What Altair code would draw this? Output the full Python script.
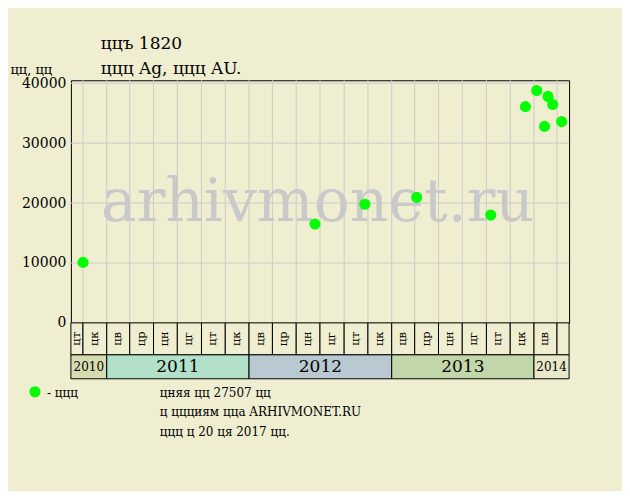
import altair as alt
import pandas as pd

# ---- data ----
sale_dates = ["2010-11-01", "2012-06-18", "2012-10-24", "2013-03-06", "2013-09-12",
              "2013-12-10", "2014-01-08", "2014-01-28", "2014-02-06", "2014-02-18",
              "2014-03-13"]
sale_prices = [10100, 16500, 19800, 20950, 18000, 36100, 38800, 32800, 37800, 36450, 33600]

col_starts = ["2010-10-01", "2010-11-01",
              "2011-01-01", "2011-03-01", "2011-05-01", "2011-07-01", "2011-09-01", "2011-11-01",
              "2012-01-01", "2012-03-01", "2012-05-01", "2012-07-01", "2012-09-01", "2012-11-01",
              "2013-01-01", "2013-03-01", "2013-05-01", "2013-07-01", "2013-09-01", "2013-11-01",
              "2014-01-01", "2014-03-01"]
col_ends = col_starts[1:] + ["2014-04-01"]
col_labels = ["цт", "цк",
              "цв", "цр", "цн", "цг", "цт", "цк",
              "цв", "цр", "цн", "цг", "цт", "цк",
              "цв", "цр", "цн", "цг", "цт", "цк",
              "цв", ""]

year_labels = ["2010", "2011", "2012", "2013", "2014"]
year_starts = ["2010-10-01", "2011-01-01", "2012-01-01", "2013-01-01", "2014-01-01"]
year_ends = ["2011-01-01", "2012-01-01", "2013-01-01", "2014-01-01", "2014-04-01"]
year_colors = ["#d6dcb0", "#b3e0c8", "#b9c9d1", "#c2d7a9", "#e9e9c9"]

y_ticks = [0, 10000, 20000, 30000, 40000]
grid_values = [10000, 20000, 30000, 40000]

title_lines = ["ццъ 1820", "ццц Ag, ццц AU."]
y_title = "цц, цц"
watermark_text = "arhivmonet.ru"
legend_label = "- ццц"
note_lines = ["цняя цц 27507 цц", "ц ццциям цца ARHIVMONET.RU", "ццц ц 20 ця 2017 цц."]

# ---- styles / layout ----
BG = "#f0eed0"
FONT = "DejaVu Serif"
W = 499
TITLE_Y = [-31, -6]
NOTE_Y = [42, 61, 81]


def utc(s):
    return s + "T00:00:00Z"


def mid(a, b):
    ta, tb = pd.Timestamp(a), pd.Timestamp(b)
    return (ta + (tb - ta) / 2).strftime("%Y-%m-%dT%H:%M:%SZ")


pts = pd.DataFrame({"d": [utc(s) for s in sale_dates], "p": sale_prices})
cols = pd.DataFrame({"s": [utc(s) for s in col_starts], "e": [utc(s) for s in col_ends],
                     "m": [mid(a, b) for a, b in zip(col_starts, col_ends)], "lab": col_labels})
vgrid = pd.DataFrame({"d": [utc(s) for s in col_starts[1:]]})
hgrid = pd.DataFrame({"v": grid_values})
years = pd.DataFrame({"s": [utc(s) for s in year_starts], "e": [utc(s) for s in year_ends],
                      "m": [mid(a, b) for a, b in zip(year_starts, year_ends)], "y": year_labels})

xs = alt.Scale(type="utc", domain=[alt.DateTime(year=2010, month=10, date=1, utc=True),
                                   alt.DateTime(year=2014, month=4, date=1, utc=True)])
ys = alt.Scale(domain=[0, 40500], nice=False, zero=True)

yaxis = alt.Axis(values=y_ticks, format="d", grid=False, ticks=False, domain=False,
                 labelFont=FONT, labelFontSize=14, labelColor="black", labelPadding=5,
                 title=y_title, titleAngle=0, titleAlign="left", titleBaseline="alphabetic",
                 titleX=-61, titleY=-7, titleFont=FONT, titleFontSize=13,
                 titleFontWeight="normal", titleColor="black")


def text_layer(txt, x, y, size, **kw):
    return alt.Chart(pd.DataFrame({"t": [txt]})).mark_text(
        font=FONT, fontSize=size, color="black", align="left", baseline="alphabetic", **kw
    ).encode(x=alt.value(x), y=alt.value(y), text="t:N")


wm = alt.Chart(pd.DataFrame({"t": [watermark_text]})).mark_text(
    font=FONT, fontSize=60, color="#c9c9c9", align="center", baseline="alphabetic"
).encode(x=alt.value(247), y=alt.value(141), text="t:N")

vg = alt.Chart(vgrid).mark_rule(color="#cbcbcb", strokeWidth=1).encode(
    x=alt.X("d:T", scale=xs, axis=None))

hg = alt.Chart(hgrid).mark_rule(color="#cbcbcb", strokeWidth=1).encode(
    y=alt.Y("v:Q", scale=ys, axis=yaxis))

dots = alt.Chart(pts).mark_circle(size=125, color="#00ff00", opacity=1).encode(
    x=alt.X("d:T", scale=xs, axis=None),
    y=alt.Y("p:Q", scale=ys, axis=yaxis))

title_layers = [text_layer(t, 30, yy, 17) for t, yy in zip(title_lines, TITLE_Y)]

main = alt.layer(wm, vg, hg, dots, *title_layers).properties(
    width=W, height=243, view=alt.ViewBackground(stroke="black", strokeWidth=1))

mcells = alt.Chart(cols).mark_rect(fill=BG, stroke="black", strokeWidth=1).encode(
    x=alt.X("s:T", scale=xs, axis=None), x2="e:T")
mtext = alt.Chart(cols).mark_text(font=FONT, fontSize=11.5, color="black", angle=270,
                                  align="center", baseline="middle").encode(
    x=alt.X("m:T", scale=xs, axis=None), text="lab:N")
mstrip = alt.layer(mcells, mtext).properties(width=W, height=32)

ycells = alt.Chart(years).mark_rect(stroke="black", strokeWidth=1).encode(
    x=alt.X("s:T", scale=xs, axis=None), x2="e:T",
    color=alt.Color("y:N", scale=alt.Scale(domain=year_labels, range=year_colors), legend=None))
ytext = alt.Chart(years).mark_text(font=FONT, color="black", align="center",
                                   baseline="middle").encode(
    x=alt.X("m:T", scale=xs, axis=None), text="y:N",
    size=alt.condition("datum.y == '2010' || datum.y == '2014'", alt.value(12), alt.value(17)))

ldot = alt.Chart(pd.DataFrame({"k": [1]})).mark_circle(size=125, color="#00ff00", opacity=1).encode(
    x=alt.value(-36), y=alt.value(37))
ltext = text_layer(legend_label, -24, 42, 12)
note_layers = [text_layer(t, 89, yy, 12) for t, yy in zip(note_lines, NOTE_Y)]

ystrip = alt.layer(ycells, ytext, ldot, ltext, *note_layers).properties(width=W, height=24)

chart = alt.vconcat(main, mstrip, ystrip, spacing=0, bounds="flush").properties(
    background=BG, padding={"left": 1, "top": 26, "right": 52, "bottom": 53}
).configure_view(stroke=None)

chart.save("out.html", embed_options={"renderer": "svg", "actions": False})
